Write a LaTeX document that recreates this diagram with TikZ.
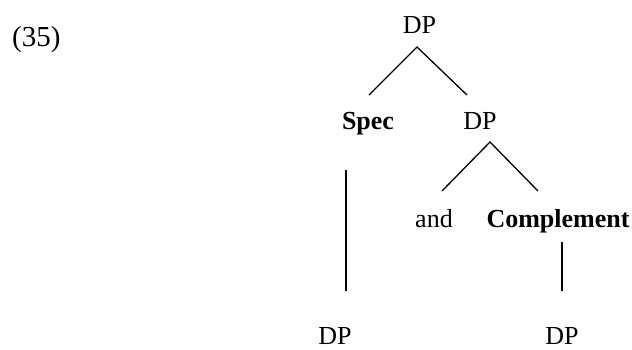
\documentclass[tikz,border=0pt]{standalone}
\usepackage{fontspec}
\setmainfont{Liberation Serif}
\begin{document}
\begin{tikzpicture}[x=1pt,y=-1pt,
  lbl/.style={anchor=base,inner sep=0pt,font=\fontsize{26}{30}\selectfont},
  blbl/.style={lbl,font=\fontsize{26}{30}\selectfont\bfseries},
  edge/.style={line width=1.3pt,line cap=butt}]
\useasboundingbox (0,0) rectangle (632,349);
\node[lbl,anchor=base west,font=\fontsize{29}{32}\selectfont] (ex) at (12,46) {(35)};
\node[lbl] (dp1) at (419.5,33) {DP};
\node[blbl] (spec) at (368,129) {Spec};
\node[lbl] (dp2) at (480,129) {DP};
\node[lbl] (and) at (434,227) {and};
\node[blbl] (comp) at (558,227) {Complement};
\node[lbl] (dp3) at (335,344) {DP};
\node[lbl] (dp4) at (562,344) {DP};
\draw[edge] ([shift={(1pt,34pt)}]spec.base) -- ([shift={(-2.5pt,-14pt)}]dp1.base) -- ([shift={(-13pt,34pt)}]dp2.base);
\draw[edge] ([shift={(8pt,36pt)}]and.base) -- ([shift={(10pt,-13pt)}]dp2.base) -- ([shift={(-20pt,36pt)}]comp.base);
\draw[edge] ([shift={(-22pt,-41pt)}]spec.base) -- ([shift={(11pt,53pt)}]dp3.base);
\draw[edge] ([shift={(4pt,-15pt)}]comp.base) -- ([shift={(0pt,53pt)}]dp4.base);
\end{tikzpicture}
\end{document}
